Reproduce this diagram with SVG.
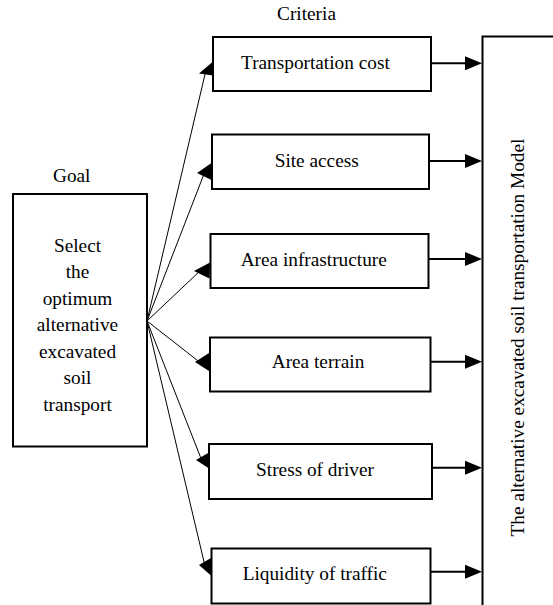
<svg xmlns="http://www.w3.org/2000/svg" width="553" height="605" viewBox="0 0 553 605" font-family="'Liberation Serif', 'Times New Roman', Times, serif">
<style>
text{font-size:19.3px;fill:#000;text-anchor:middle}
.box{fill:#fff;stroke:#000;stroke-width:2}
.thin{stroke:#000;stroke-width:1;fill:none}
.thick{stroke:#000;stroke-width:2;fill:none}
.head{fill:#000;stroke:none}
</style>
<rect width="553" height="605" fill="#fff"/>
<text x="306.5" y="20">Criteria</text>
<text x="71.7" y="182">Goal</text>
<g id="connectors">
<line class="thin" x1="147" y1="321" x2="206" y2="70"/>
<polygon class="head" points="199,73.5 213,61.5 213,75.5"/>
<line class="thin" x1="147" y1="321" x2="204" y2="174"/>
<polygon class="head" points="197,173 211.5,163 211.5,180"/>
<line class="thin" x1="147" y1="321" x2="201" y2="270"/>
<polygon class="head" points="194,271 210,262.5 209.5,278.5"/>
<line class="thin" x1="147" y1="321" x2="202" y2="364"/>
<polygon class="head" points="195,362 209,353 210.5,372"/>
<line class="thin" x1="147" y1="321" x2="202" y2="461"/>
<polygon class="head" points="196,460 209,452.5 209,468.5"/>
<line class="thin" x1="147" y1="321" x2="205" y2="566"/>
<polygon class="head" points="199,565 211,558 211.5,576"/>
<line class="thick" x1="431" y1="63.3" x2="467" y2="63.3"/>
<polygon class="head" points="465,56.3 482,63.3 465,70.3"/>
<line class="thick" x1="429" y1="161" x2="467" y2="161"/>
<polygon class="head" points="465,154 482,161 465,168"/>
<line class="thick" x1="428.5" y1="259" x2="467" y2="259"/>
<polygon class="head" points="465,252 482,259 465,266"/>
<line class="thick" x1="430.5" y1="361.7" x2="467" y2="361.7"/>
<polygon class="head" points="465,354.7 482,361.7 465,368.7"/>
<line class="thick" x1="432" y1="467.7" x2="467" y2="467.7"/>
<polygon class="head" points="465,460.7 482,467.7 465,474.7"/>
<line class="thick" x1="430.5" y1="571.7" x2="467" y2="571.7"/>
<polygon class="head" points="465,564.7 482,571.7 465,578.7"/>
</g>
<g id="goal">
<rect class="box" x="13" y="194" width="134" height="252.5"/>
<text x="77.5" y="251.5">Select</text>
<text x="77.5" y="278">the</text>
<text x="77.5" y="304.5">optimum</text>
<text x="77.5" y="331">alternative</text>
<text x="77.5" y="357.5">excavated</text>
<text x="77.5" y="384">soil</text>
<text x="77.5" y="410.5">transport</text>
</g>
<g id="c1">
<rect class="box" x="213" y="37" width="218" height="54"/>
<text x="315.4" y="69.3">Transportation cost</text>
</g>
<g id="c2">
<rect class="box" x="212" y="134.5" width="217" height="54.5"/>
<text x="316.7" y="166.5">Site access</text>
</g>
<g id="c3">
<rect class="box" x="210.5" y="234" width="218" height="54"/>
<text x="313.7" y="265.5">Area infrastructure</text>
</g>
<g id="c4">
<rect class="box" x="210" y="337.5" width="220.5" height="54"/>
<text x="318" y="368.3">Area terrain</text>
</g>
<g id="c5">
<rect class="box" x="209" y="444" width="223" height="55"/>
<text x="315" y="475.7">Stress of driver</text>
</g>
<g id="c6">
<rect class="box" x="211.5" y="548.5" width="219" height="55"/>
<text x="314.8" y="580">Liquidity of traffic</text>
</g>
<g id="model">
<rect class="box" x="482.5" y="36.5" width="100" height="600"/>
<text transform="translate(523.5,337.5) rotate(-90)" x="0" y="0" font-size="19.6">The alternative excavated soil transportation Model</text>
</g>
</svg>
